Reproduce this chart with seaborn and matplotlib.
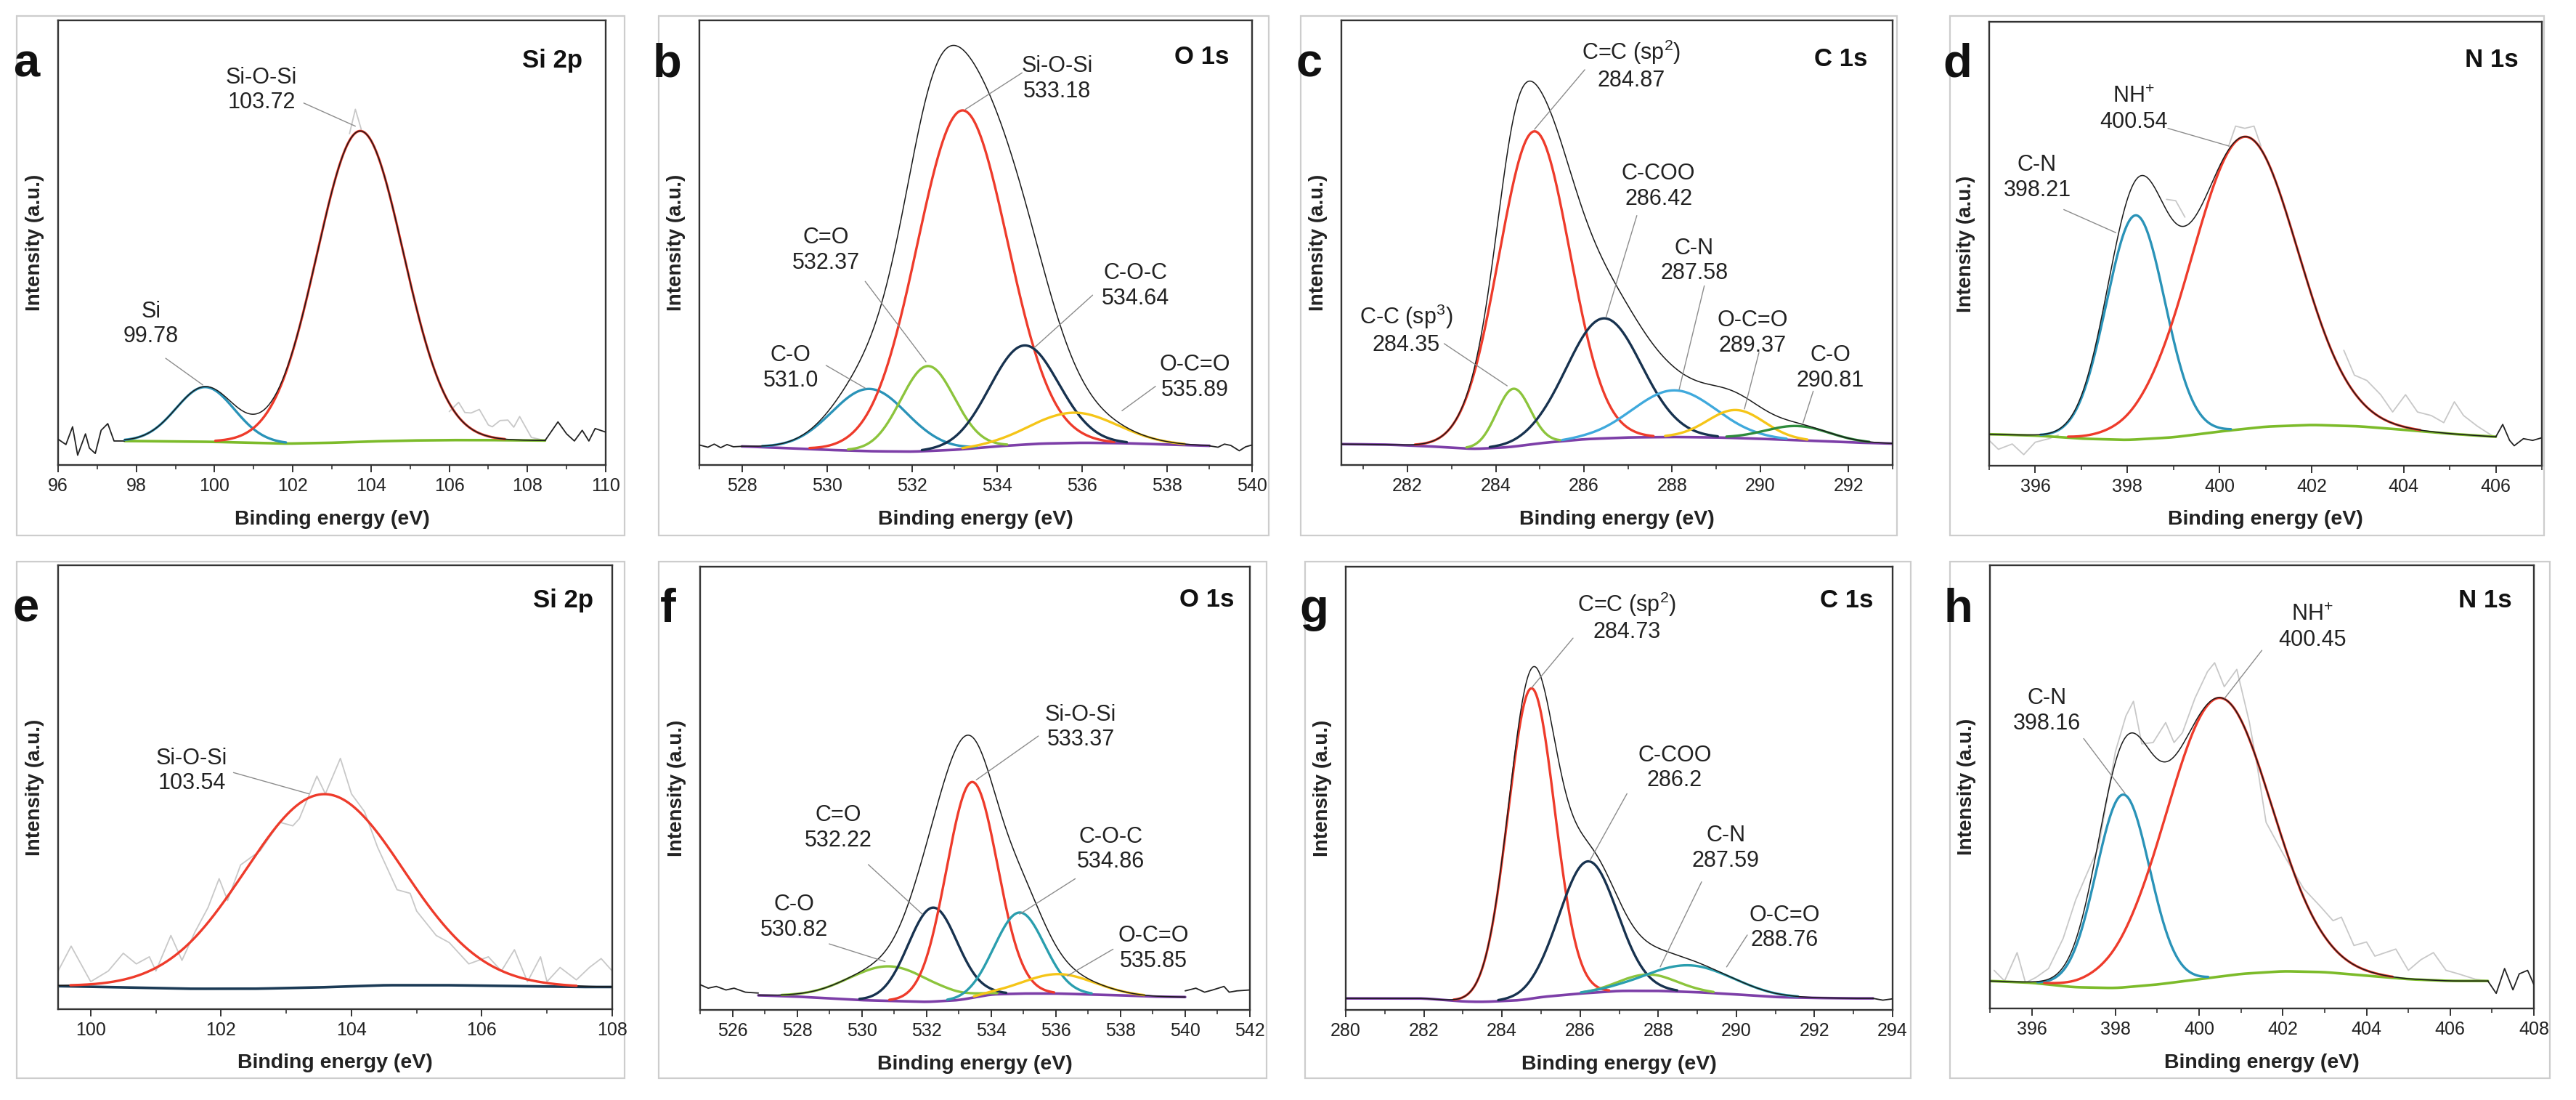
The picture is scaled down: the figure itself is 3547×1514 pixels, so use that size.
import numpy as np
import matplotlib
matplotlib.use("Agg")
import matplotlib.pyplot as plt
from matplotlib.ticker import MultipleLocator
import seaborn as sns

NAN = float("nan")

# ======================= DATA =======================
# Intensities are normalised so that each axes spans 0..1.
# ---- a: Si 2p ----
A_CENTERS = [99.76, 103.72]
A_HEIGHTS = [0.123, 0.699]
A_FWHM = [1.75, 2.6]
A_LABELS = ["Si\n99.78", "Si-O-Si\n103.72"]
A_BG_X = [97.7, 99, 100, 101, 101.8, 103, 104, 105, 106, 107, 108.45]
A_BG_Y = [0.054, 0.053, 0.052, 0.050, 0.048, 0.050, 0.053, 0.055, 0.056, 0.056, 0.055]
A_RAW_X = [96.0, 96.2, 96.37, 96.5, 96.7, 96.8, 96.95, 97.1, 97.27, 97.43, 97.7, NAN,
           103.45, 103.6, 103.75, NAN,
           106.0, 106.24, 106.4, 106.56, 106.77, 107.0, 107.1, 107.3, 107.5, 107.65, 107.8, 108.1, 108.45, NAN,
           108.45, 108.78, 109.0, 109.2, 109.4, 109.57, 109.73, 110.0]
A_RAW_Y = [0.058, 0.046, 0.086, 0.022, 0.070, 0.038, 0.026, 0.078, 0.093, 0.054, 0.054, NAN,
           0.745, 0.80, 0.755, NAN,
           0.12, 0.141, 0.118, 0.117, 0.125, 0.09, 0.086, 0.10, 0.101, 0.085, 0.109, 0.062, 0.055, NAN,
           0.055, 0.097, 0.070, 0.054, 0.078, 0.054, 0.082, 0.074]

# ---- b: O 1s ----
B_CENTERS = [531.0, 532.37, 533.18, 534.64, 535.8]
B_HEIGHTS = [0.140, 0.191, 0.762, 0.223, 0.068]
B_FWHM = [2.1, 1.5, 2.5, 1.9, 2.4]
B_LABELS = ["C-O\n531.0", "C=O\n532.37", "Si-O-Si\n533.18", "C-O-C\n534.64", "O-C=O\n535.89"]
B_BG_X = [528, 529, 530, 531, 532, 533, 534, 535, 536, 537, 538, 539]
B_BG_Y = [0.042, 0.038, 0.034, 0.031, 0.030, 0.034, 0.042, 0.048, 0.050, 0.049, 0.046, 0.043]
B_RAW_X = [527.0, 527.2, 527.35, 527.5, 527.65, 527.8, 528.0, NAN,
           539.0, 539.2, 539.35, 539.5, 539.7, 539.85, 540.0]
B_RAW_Y = [0.045, 0.040, 0.047, 0.039, 0.046, 0.041, 0.042, NAN,
           0.043, 0.040, 0.047, 0.044, 0.032, 0.041, 0.045]

# ---- c: C 1s ----
C_CENTERS = [284.4, 284.87, 286.45, 288.05, 289.45, 290.85]
C_HEIGHTS = [0.130, 0.703, 0.270, 0.105, 0.063, 0.032]
C_FWHM = [0.9, 1.9, 2.0, 2.2, 1.5, 1.7]
C_LABELS = ["C-C (sp$^{3}$)\n284.35", "C=C (sp$^{2}$)\n284.87", "C-COO\n286.42",
            "C-N\n287.58", "O-C=O\n289.37", "C-O\n290.81"]
C_BG_X = [280.5, 281.5, 282.5, 283.5, 284.3, 285, 286, 287, 288, 289, 290, 291, 292, 293]
C_BG_Y = [0.047, 0.046, 0.042, 0.036, 0.040, 0.049, 0.058, 0.062, 0.063, 0.062, 0.059, 0.055, 0.051, 0.048]
C_RAW_X = []
C_RAW_Y = []

# ---- d: N 1s ----
D_CENTERS = [398.18, 400.54]
D_HEIGHTS = [0.505, 0.658]
D_FWHM = [1.5, 2.7]
D_LABELS = ["C-N\n398.21", "NH$^{+}$\n400.54"]
D_BG_X = [395, 396, 397, 398, 399, 400, 401, 402, 403, 404, 405, 406]
D_BG_Y = [0.071, 0.068, 0.061, 0.058, 0.064, 0.077, 0.088, 0.092, 0.089, 0.081, 0.072, 0.065]
D_RAW_X = [395.0, 395.2, 395.5, 395.75, 396.0, 396.3, 396.5, NAN,
           398.85, 399.05, 399.25, NAN,
           400.2, 400.35, 400.55, 400.75, 400.9, NAN,
           402.7, 402.93, 403.2, 403.5, 403.76, 404.04, 404.3, 404.6, 404.87, 405.1, 405.3, 405.6, 405.9, 406.0, NAN,
           406.0, 406.15, 406.3, 406.4, 406.6, 406.8, 407.0]
D_RAW_Y = [0.057, 0.037, 0.049, 0.025, 0.053, 0.061, 0.069, NAN,
           0.60, 0.597, 0.56, NAN,
           0.72, 0.765, 0.76, 0.765, 0.72, NAN,
           0.26, 0.204, 0.192, 0.16, 0.121, 0.16, 0.121, 0.113, 0.097, 0.144, 0.113, 0.089, 0.069, 0.065, NAN,
           0.065, 0.093, 0.057, 0.045, 0.061, 0.057, 0.063]

# ---- e: Si 2p ----
E_CENTERS = [103.57]
E_HEIGHTS = [0.435]
E_FWHM = [2.85]
E_LABELS = ["Si-O-Si\n103.54"]
E_BG_X = [99.5, 100.5, 101.5, 102.5, 103.5, 104.5, 105.5, 106.5, 107.5, 108]
E_BG_Y = [0.052, 0.049, 0.046, 0.046, 0.049, 0.054, 0.054, 0.052, 0.050, 0.050]
E_RAW_X = [99.5, 99.7, 100.0, 100.27, 100.5, 100.7, 100.9, 101.0, 101.23, 101.4, 101.6, 101.8, 101.97,
           102.1, 102.3, 102.6, 102.9, 103.1, 103.2, 103.47, 103.6, 103.83, 104.0, 104.2, 104.4, 104.7,
           104.9, 105.0, 105.3, 105.5, 105.8, 106.1, 106.3, 106.5, 106.7, 106.9, 107.0, 107.2, 107.45,
           107.65, 107.83, 108.0]
E_RAW_Y = [0.086, 0.142, 0.062, 0.086, 0.126, 0.102, 0.118, 0.086, 0.166, 0.110, 0.174, 0.229, 0.294,
           0.245, 0.325, 0.357, 0.421, 0.413, 0.429, 0.525, 0.485, 0.565, 0.485, 0.445, 0.365, 0.269,
           0.261, 0.221, 0.166, 0.150, 0.102, 0.118, 0.086, 0.134, 0.062, 0.118, 0.062, 0.094, 0.066,
           0.094, 0.114, 0.086]

# ---- f: O 1s ----
F_CENTERS = [530.85, 532.2, 533.4, 534.88, 536.1]
F_HEIGHTS = [0.078, 0.212, 0.487, 0.183, 0.044]
F_FWHM = [3.0, 1.8, 1.85, 1.8, 2.6]
F_LABELS = ["C-O\n530.82", "C=O\n532.22", "Si-O-Si\n533.37", "C-O-C\n534.86", "O-C=O\n535.85"]
F_BG_X = [526.8, 528, 529, 530, 531, 532, 533, 534, 535, 536, 537, 538, 539, 540]
F_BG_Y = [0.033, 0.030, 0.026, 0.022, 0.020, 0.018, 0.022, 0.035, 0.037, 0.037, 0.035, 0.033, 0.030, 0.029]
F_RAW_X = [525.0, 525.25, 525.5, 525.8, 526.05, 526.4, 526.8, NAN,
           540.0, 540.33, 540.6, 540.85, 541.2, 541.36, 541.6, 542.0]
F_RAW_Y = [0.057, 0.049, 0.053, 0.045, 0.049, 0.040, 0.038, NAN,
           0.043, 0.049, 0.040, 0.045, 0.053, 0.040, 0.043, 0.045]

# ---- g: C 1s ----
G_CENTERS = [284.75, 286.2, 287.75, 288.8]
G_HEIGHTS = [0.700, 0.297, 0.037, 0.060]
G_FWHM = [1.4, 1.75, 1.7, 2.6]
G_LABELS = ["C=C (sp$^{2}$)\n284.73", "C-COO\n286.2", "C-N\n287.59", "O-C=O\n288.76"]
G_BG_X = [280, 281, 282, 283, 283.5, 284.5, 285, 286, 287, 288, 289, 290, 291, 292, 293, 293.5]
G_BG_Y = [0.026, 0.026, 0.026, 0.019, 0.018, 0.022, 0.029, 0.037, 0.043, 0.043, 0.040, 0.035, 0.029, 0.027, 0.026, 0.026]
G_RAW_X = [293.5, 293.75, 294.0]
G_RAW_Y = [0.026, 0.022, 0.025]

# ---- h: N 1s ----
H_CENTERS = [398.18, 400.46]
H_HEIGHTS = [0.435, 0.629]
H_FWHM = [1.5, 2.95]
H_LABELS = ["C-N\n398.16", "NH$^{+}$\n400.45"]
H_BG_X = [395, 396, 397, 398, 399, 400, 401, 402, 403, 404, 405, 406, 406.9]
H_BG_Y = [0.062, 0.058, 0.048, 0.046, 0.054, 0.066, 0.078, 0.084, 0.082, 0.074, 0.066, 0.062, 0.062]
H_RAW_X = [395.1, 395.35, 395.65, 395.85, 396.1, 396.4, 396.75, 397.05, 397.3, 397.6,
           398.0, 398.25, 398.43, 398.63, 398.9, 399.2, 399.4, 399.6, 399.9, 400.2, 400.37, 400.6,
           400.9, 401.2, 401.4, 401.6, 402.0, 402.5, 402.9, 403.2, 403.4, 403.7, 404.0, 404.2,
           404.7, 405.0, 405.3, 405.6, 405.9, 406.2, 406.6, 406.9, NAN,
           406.9, 407.1, 407.3, 407.5, 407.65, 407.85, 408.0]
H_RAW_Y = [0.086, 0.062, 0.126, 0.058, 0.070, 0.090, 0.158, 0.245, 0.300, 0.365,
           0.58, 0.66, 0.693, 0.597, 0.60, 0.645, 0.60, 0.622, 0.70, 0.76, 0.78, 0.726,
           0.765, 0.646, 0.54, 0.42, 0.35, 0.27, 0.23, 0.198, 0.206, 0.142, 0.15, 0.118,
           0.134, 0.086, 0.11, 0.126, 0.086, 0.078, 0.066, 0.062, NAN,
           0.062, 0.034, 0.090, 0.042, 0.078, 0.086, 0.054]

PANEL_LETTERS = ["a", "b", "c", "d", "e", "f", "g", "h"]
PANEL_TITLES = ["Si 2p", "O 1s", "C 1s", "N 1s", "Si 2p", "O 1s", "C 1s", "N 1s"]

# ======================= STYLE =======================
RED = "#ee3b2b"
NAVY = "#17324f"
BLUE = "#2a93b8"
LBLUE = "#3fa9dc"
YGREEN = "#8cc43c"
YELLOW = "#f5c518"
GREEN = "#2e8b3c"
TEAL = "#2a9eae"
PURPLE = "#7d3fa8"
BGGREEN = "#7cbb2a"
BGNAVY = "#1b3a55"

A_COLORS = [BLUE, RED]
B_COLORS = [BLUE, YGREEN, RED, NAVY, YELLOW]
C_COLORS = [YGREEN, RED, NAVY, LBLUE, YELLOW, GREEN]
D_COLORS = [BLUE, RED]
E_COLORS = [RED]
F_COLORS = [YGREEN, NAVY, RED, TEAL, YELLOW]
G_COLORS = [RED, NAVY, YGREEN, TEAL]
H_COLORS = [BLUE, RED]
BG_COLORS = [BGGREEN, PURPLE, PURPLE, BGGREEN, BGNAVY, PURPLE, PURPLE, BGGREEN]
ENV_ON_TOP = [True, True, True, True, False, True, True, True]

# ======================= LAYOUT =======================
W_PX, H_PX = 3547, 1514
AX_PX = [(80, 834, 28, 640), (963, 1724, 28, 640), (1847, 2606, 28, 640), (2739, 3500, 30, 641),
         (80, 843, 778, 1389), (964, 1721, 780, 1390), (1853, 2606, 780, 1390), (2740, 3489, 778, 1388)]
FRAME_PX = [(23, 860, 22, 737), (907, 1747, 22, 737), (1791, 2612, 22, 737), (2685, 3503, 22, 737),
            (23, 860, 773, 1484), (907, 1744, 773, 1484), (1797, 2631, 773, 1484), (2685, 3511, 773, 1484)]
XLIMS = [(96, 110), (527, 540), (280.5, 293), (395, 407), (99.5, 108), (525, 542), (280, 294), (395, 408)]
TITLE_POS = [(0.957, 0.91), (0.958, 0.917), (0.955, 0.913), (0.958, 0.914),
             (0.966, 0.92), (0.972, 0.926), (0.964, 0.923), (0.96, 0.92)]
# annotation: (text x, text y, leader x0, y0, x1, y1) per component
ANNOT = [
    [(98.38, 0.317, 98.75, 0.24, 99.7, 0.18), (101.2, 0.843, 102.28, 0.814, 103.6, 0.762)],
    [(529.15, 0.218, 529.98, 0.224, 530.9, 0.173), (529.98, 0.483, 530.9, 0.413, 532.33, 0.232),
     (535.42, 0.868, 534.59, 0.882, 533.26, 0.80), (537.25, 0.403, 536.25, 0.382, 534.88, 0.264),
     (538.66, 0.197, 537.73, 0.177, 536.94, 0.122)],
    [(281.97, 0.305, 282.83, 0.273, 284.26, 0.178), (287.07, 0.90, 286.02, 0.889, 284.88, 0.755),
     (287.69, 0.627, 287.2, 0.561, 286.5, 0.332), (288.5, 0.459, 288.73, 0.403, 288.16, 0.17),
     (289.83, 0.297, 289.97, 0.253, 289.64, 0.126), (291.59, 0.218, 291.2, 0.166, 290.97, 0.095)],
    [(396.04, 0.649, 396.62, 0.577, 397.75, 0.525), (398.14, 0.803, 398.88, 0.76, 400.21, 0.72)],
    [(101.55, 0.537, 102.19, 0.533, 103.35, 0.485)],
    [(527.9, 0.209, 528.99, 0.149, 530.72, 0.109), (529.28, 0.411, 530.2, 0.328, 531.87, 0.216),
     (536.77, 0.638, 535.46, 0.618, 533.54, 0.519), (537.7, 0.362, 536.6, 0.296, 534.88, 0.216),
     (539.01, 0.139, 537.77, 0.137, 536.36, 0.077)],
    [(287.2, 0.887, 285.82, 0.839, 284.76, 0.727), (288.42, 0.546, 287.2, 0.488, 286.25, 0.337),
     (289.73, 0.365, 289.11, 0.289, 288.05, 0.097), (291.24, 0.185, 290.28, 0.169, 289.75, 0.097)],
    [(396.37, 0.671, 397.24, 0.609, 398.23, 0.485), (402.7, 0.86, 401.5, 0.808, 400.61, 0.70)],
]

PANELS = [
    (A_CENTERS, A_HEIGHTS, A_FWHM, A_LABELS, A_BG_X, A_BG_Y, A_RAW_X, A_RAW_Y, A_COLORS),
    (B_CENTERS, B_HEIGHTS, B_FWHM, B_LABELS, B_BG_X, B_BG_Y, B_RAW_X, B_RAW_Y, B_COLORS),
    (C_CENTERS, C_HEIGHTS, C_FWHM, C_LABELS, C_BG_X, C_BG_Y, C_RAW_X, C_RAW_Y, C_COLORS),
    (D_CENTERS, D_HEIGHTS, D_FWHM, D_LABELS, D_BG_X, D_BG_Y, D_RAW_X, D_RAW_Y, D_COLORS),
    (E_CENTERS, E_HEIGHTS, E_FWHM, E_LABELS, E_BG_X, E_BG_Y, E_RAW_X, E_RAW_Y, E_COLORS),
    (F_CENTERS, F_HEIGHTS, F_FWHM, F_LABELS, F_BG_X, F_BG_Y, F_RAW_X, F_RAW_Y, F_COLORS),
    (G_CENTERS, G_HEIGHTS, G_FWHM, G_LABELS, G_BG_X, G_BG_Y, G_RAW_X, G_RAW_Y, G_COLORS),
    (H_CENTERS, H_HEIGHTS, H_FWHM, H_LABELS, H_BG_X, H_BG_Y, H_RAW_X, H_RAW_Y, H_COLORS),
]

# ======================= DRAWING =======================
sns.set_theme(style="white")
plt.rcParams["font.family"] = ["Liberation Sans", "DejaVu Sans"]
plt.rcParams["mathtext.fontset"] = "custom"
plt.rcParams["mathtext.rm"] = "Liberation Sans"
plt.rcParams["mathtext.it"] = "Liberation Sans:italic"
plt.rcParams["mathtext.bf"] = "Liberation Sans:bold"

fig = plt.figure(figsize=(W_PX / 100, H_PX / 100), dpi=100)
fig.patch.set_facecolor("white")


def rect(l, r, t, b):
    return [l / W_PX, 1 - b / H_PX, (r - l) / W_PX, (b - t) / H_PX]


def smooth_background(bx, by, x):
    yb = np.interp(x, bx, by)
    k = 31
    pad = np.pad(yb, k, mode="edge")
    ker = np.ones(k) / k
    return np.convolve(pad, ker, mode="same")[k:-k]


def line(ax, x, y, color, lw, z):
    sns.lineplot(x=np.asarray(x), y=np.asarray(y), ax=ax, color=color, linewidth=lw,
                 sort=False, estimator=None, errorbar=None, legend=False, zorder=z)


for i, (cen, hei, fw, labs, bx, by, rx, ry, cols) in enumerate(PANELS):
    l, r, t, b = AX_PX[i]
    ax = fig.add_axes(rect(l, r, t, b))
    ax.set_facecolor("white")

    # light frame around the panel
    fl, fr, ft, fb = FRAME_PX[i]
    fig.add_artist(plt.Rectangle((fl / W_PX, 1 - fb / H_PX), (fr - fl) / W_PX, (fb - ft) / H_PX,
                                 transform=fig.transFigure, fill=False, ec="#cdcdcd", lw=1.6, zorder=0))

    lo, hi = bx[0], bx[-1]
    x = np.linspace(lo, hi, 900)
    bg = smooth_background(bx, by, x)

    # raw data pieces
    rx_a = np.asarray(rx, float)
    ry_a = np.asarray(ry, float)
    if rx_a.size:
        breaks = np.where(np.isnan(rx_a))[0]
        starts = np.r_[0, breaks + 1]
        ends = np.r_[breaks, rx_a.size]
        for s, e in zip(starts, ends):
            sx, sy = rx_a[s:e], ry_a[s:e]
            if sx.size < 2:
                continue
            outside = sx.max() <= lo + 1e-9 or sx.min() >= hi - 1e-9
            if outside:
                line(ax, sx, sy, "#222222", 1.3, 3)
            else:
                line(ax, sx, sy, "#c8c8c8", 1.3, 1)

    # components (drawn only where they rise above the background)
    env = bg.copy()
    comps = []
    for c, h, w in zip(cen, hei, fw):
        g = h * np.exp(-4 * np.log(2) * (x - c) ** 2 / w ** 2)
        env = env + g
        keep = g > 0.0025
        comps.append((x[keep], (bg + g)[keep]))
    line(ax, x, bg, BG_COLORS[i], 2.6, 2)
    for (xc, yc), col in zip(comps, cols):
        line(ax, xc, yc, col, 2.4, 4)
    line(ax, x, env, "#1a1a1a", 1.1, 6 if ENV_ON_TOP[i] else 3.5)

    # annotations
    for lab, (tx, ty, x0, y0, x1, y1) in zip(labs, ANNOT[i]):
        ax.text(tx, ty, lab, ha="center", va="center", fontsize=22, color="#222222",
                linespacing=1.2, zorder=8)
        ax.plot([x0, x1], [y0, y1], color="#8c8c8c", lw=1.0, zorder=7)

    # axes styling
    ax.set_xlim(*XLIMS[i])
    ax.set_ylim(0, 1)
    ax.xaxis.set_major_locator(MultipleLocator(2))
    ax.xaxis.set_minor_locator(MultipleLocator(1))
    ax.set_yticks([])
    ax.tick_params(axis="x", which="major", direction="out", length=7, width=1.4,
                   color="#333333", labelsize=18, pad=5, labelcolor="#222222", bottom=True)
    ax.tick_params(axis="x", which="minor", direction="out", length=4, width=1.2,
                   color="#333333", bottom=True)
    for sp in ax.spines.values():
        sp.set_visible(True)
        sp.set_color("#333333")
        sp.set_linewidth(1.7)
    ax.set_xlabel("Binding energy (eV)", fontsize=20.5, fontweight="bold", labelpad=15, color="#222222")
    ax.set_ylabel("Intensity (a.u.)", fontsize=20, fontweight="bold", labelpad=14, color="#222222")
    ax.text(TITLE_POS[i][0], TITLE_POS[i][1], PANEL_TITLES[i], transform=ax.transAxes,
            ha="right", va="center", fontsize=25, fontweight="bold", color="#111111")

    # panel letter
    base_y = 105 if i < 4 else 856
    fig.text((l - 44) / W_PX, 1 - base_y / H_PX, PANEL_LETTERS[i], ha="center", va="baseline",
             fontsize=47, fontweight="bold", color="#111111")

fig.savefig("out.png", dpi=100, facecolor="white")
